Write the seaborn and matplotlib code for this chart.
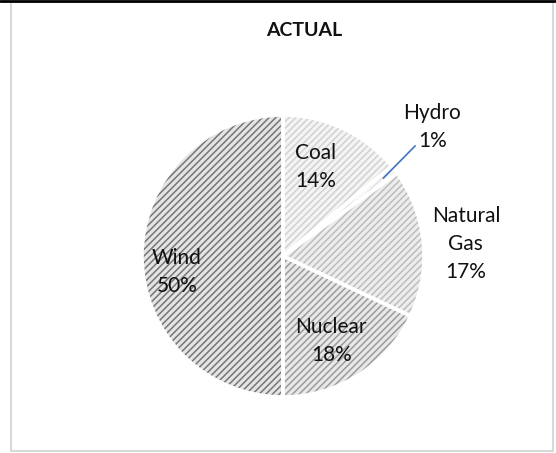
import numpy as np
import matplotlib
matplotlib.use("Agg")
import matplotlib.pyplot as plt
import seaborn as sns
from matplotlib.patches import Rectangle
from matplotlib.lines import Line2D

# Data
sources = ["Coal", "Hydro", "Natural\nGas", "Nuclear", "Wind"]
shares = [14, 1, 17, 18, 50]

# Styling per slice (grey hatched fills, like the Excel original)
face_colors = ["#f4f4f4", "#f8f8f8", "#ededed", "#e8e8e8", "#e4e4e4"]
hatch_colors = ["#d2d2d2", "#e4e4e4", "#bdbdbd", "#9c9c9c", "#767676"]
label_dist = [0.67, 1.40, 1.30, 0.69, 0.76]
label_rot = [5, 3, -1.5, -2.7, 8.6]

sns.set_theme(style="white")
plt.rcParams["font.family"] = ["Lato", "DejaVu Sans"]
plt.rcParams["hatch.linewidth"] = 1.1

fig = plt.figure(figsize=(5.56, 4.53), dpi=100)
W, H = 556, 453

# outer chart frame
fig.patches.append(Rectangle((11 / W, 2 / H), 542 / W, 449 / H, transform=fig.transFigure,
                             fill=False, edgecolor="#d9d9d9", linewidth=1.5))
fig.add_artist(Line2D([0, 1], [1 - 1 / H, 1 - 1 / H], transform=fig.transFigure,
                      color="black", linewidth=2))

cx, cy, r = 283, 256, 141
ax = fig.add_axes([(cx - r) / W, (H - cy - r) / H, 2 * r / W, 2 * r / H])

wedges, _ = ax.pie(shares, startangle=90, counterclock=False, radius=1,
                   wedgeprops=dict(linewidth=0))
for w, fc, hc in zip(wedges, face_colors, hatch_colors):
    w.set_facecolor(fc)
    w.set_edgecolor(hc)
    w.set_hatch("/////")
    w.set_linewidth(0)

# white separators between slices
ax.pie(shares, startangle=90, counterclock=False, radius=1,
       wedgeprops=dict(fill=False, edgecolor="white", linewidth=2.6))

ax.set_xlim(-1, 1)
ax.set_ylim(-1, 1)
ax.set_aspect("equal")
ax.axis("off")

for w, name, val, d, rot in zip(wedges, sources, shares, label_dist, label_rot):
    mid = np.deg2rad((w.theta1 + w.theta2) / 2 + rot)
    x, y = d * np.cos(mid), d * np.sin(mid)
    ax.text(x, y, f"{name}\n{val}%", ha="center", va="center", fontsize=15,
            color="#111111", linespacing=1.5, clip_on=False)
    if name == "Hydro":
        a0 = np.deg2rad((w.theta1 + w.theta2) / 2)
        a1 = a0 + np.deg2rad(2)
        ax.plot([0.9 * np.cos(a0), 1.22 * np.cos(a1)], [0.9 * np.sin(a0), 1.22 * np.sin(a1)],
                color="#4472c4", linewidth=1.2, clip_on=False)

fig.text(304 / W, 1 - 31 / H, "ACTUAL", ha="center", va="center", fontsize=14,
         fontweight="bold", color="#111111")

fig.savefig("out.png", dpi=100)
